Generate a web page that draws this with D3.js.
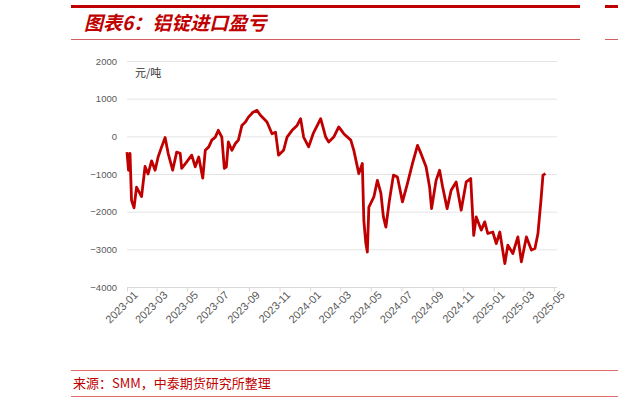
<!DOCTYPE html>
<html><head><meta charset="utf-8">
<script src="https://cdn.jsdelivr.net/npm/d3@7"></script>
<style>body{margin:0;background:#fff}svg{display:block}</style>
</head><body>
<svg id="chart" width="618" height="401"></svg>
<script>
// data (元/吨)
const dates = ["2023-01-01","2023-01-04","2023-01-07","2023-01-10","2023-01-15","2023-01-20","2023-01-30","2023-02-06","2023-02-12","2023-02-19","2023-02-26","2023-03-04","2023-03-11","2023-03-18","2023-03-24","2023-04-02","2023-04-10","2023-04-17","2023-04-20","2023-04-30","2023-05-10","2023-05-17","2023-05-24","2023-06-01","2023-06-06","2023-06-13","2023-06-19","2023-06-26","2023-07-02","2023-07-09","2023-07-14","2023-07-18","2023-07-22","2023-07-29","2023-08-05","2023-08-11","2023-08-18","2023-08-25","2023-08-31","2023-09-09","2023-09-17","2023-09-24","2023-10-07","2023-10-17","2023-10-24","2023-10-30","2023-11-09","2023-11-16","2023-11-26","2023-12-06","2023-12-13","2023-12-19","2023-12-29","2024-01-07","2024-01-22","2024-02-01","2024-02-07","2024-02-17","2024-02-27","2024-03-08","2024-03-22","2024-03-28","2024-04-07","2024-04-14","2024-04-17","2024-04-21","2024-04-24","2024-04-27","2024-05-07","2024-05-14","2024-05-21","2024-05-26","2024-05-31","2024-06-07","2024-06-15","2024-06-23","2024-07-03","2024-07-13","2024-07-23","2024-08-02","2024-08-09","2024-08-19","2024-08-26","2024-08-30","2024-09-08","2024-09-15","2024-09-21","2024-09-30","2024-10-08","2024-10-18","2024-10-28","2024-11-07","2024-11-16","2024-11-22","2024-11-27","2024-12-07","2024-12-14","2024-12-20","2024-12-30","2025-01-06","2025-01-13","2025-01-23","2025-01-29","2025-02-08","2025-02-18","2025-02-25","2025-03-07","2025-03-17","2025-03-24","2025-03-30","2025-04-05","2025-04-09","2025-04-14"];
const values = [-420,-900,-450,-1700,-1900,-1350,-1600,-800,-1000,-650,-900,-550,-280,-30,-450,-900,-420,-450,-850,-680,-500,-810,-550,-1110,-370,-280,-100,-20,160,-20,-850,-810,-150,-370,-190,-100,290,380,510,640,690,560,380,70,110,-500,-370,-20,160,290,470,-20,-280,70,470,-20,-150,-20,250,70,-100,-370,-990,-720,-2230,-2840,-3070,-1880,-1610,-1170,-1510,-2140,-2410,-1700,-1030,-1080,-1740,-1250,-720,-240,-460,-810,-1340,-1920,-1170,-900,-1340,-1920,-1430,-1210,-1960,-1210,-1120,-2630,-2140,-2490,-2270,-2580,-2540,-2850,-2540,-3380,-2890,-3110,-2670,-3330,-2670,-3020,-2980,-2580,-1700,-1030,-990];
const yTicks = [2000,1000,0,-1000,-2000,-3000,-4000];
const title = "图表6：铝锭进口盈亏";
const source = "来源：SMM，中泰期货研究所整理";

const parse = d3.timeParse("%Y-%m-%d");
const series = dates.map((d,i)=>({date:parse(d), v:values[i]}));
const svg = d3.select("#chart");
const red = "#c00000";

// header / footer frame
svg.append("rect").attr("x",71).attr("y",5).attr("width",509).attr("height",3).attr("fill",red);
svg.append("rect").attr("x",605).attr("y",5).attr("width",13).attr("height",3).attr("fill",red);
svg.append("line").attr("x1",71).attr("x2",580).attr("y1",39.5).attr("y2",39.5).attr("stroke","#d06060");
svg.append("line").attr("x1",605).attr("x2",618).attr("y1",39.5).attr("y2",39.5).attr("stroke","#d06060");
svg.append("text").attr("x",84).attr("y",30).text(title)
  .attr("fill",red).attr("font-size",19).attr("font-weight","bold").attr("font-style","italic")
  .attr("font-family","Noto Sans CJK SC");
svg.append("line").attr("x1",71).attr("x2",618).attr("y1",370.5).attr("y2",370.5).attr("stroke","#e07070");
svg.append("line").attr("x1",71).attr("x2",618).attr("y1",396.5).attr("y2",396.5).attr("stroke","#e07070");
svg.append("text").attr("x",73).attr("y",388).text(source)
  .attr("fill",red).attr("font-size",13).attr("font-family","Noto Sans CJK SC");

const x = d3.scaleTime().domain([parse("2023-01-01"), parse("2025-05-01")]).range([127,554]);
const y = d3.scaleLinear().domain([-4000,2000]).range([287,61]);

const g = svg.append("g");
g.selectAll(".grid").data(yTicks.slice(0,-1)).join("line")
  .attr("x1",127).attr("x2",557).attr("y1",d=>y(d)+0.5).attr("y2",d=>y(d)+0.5)
  .attr("stroke","#e4e4e4");

g.append("g").attr("transform","translate(127,0)")
  .call(d3.axisLeft(y).tickValues(yTicks).tickFormat(d3.format("d")).tickSize(0).tickPadding(10))
  .call(a=>a.select(".domain").remove())
  .selectAll("text").attr("fill","#595959").attr("font-size",9.5).attr("font-family","Liberation Sans");

const xa = g.append("g").attr("transform",`translate(0,${y(-4000)+0.5})`)
  .call(d3.axisBottom(x).ticks(d3.timeMonth.every(2)).tickFormat(d3.timeFormat("%Y-%m")).tickSize(4).tickSizeOuter(0));
xa.select(".domain").attr("stroke","#d9d9d9").attr("d","M127,0H557");
xa.selectAll(".tick line").attr("stroke","#d9d9d9");
xa.selectAll("text").attr("fill","#595959").attr("font-size",11).attr("font-family","Liberation Sans")
  .attr("text-anchor","end").attr("dx","0.2em").attr("dy","0.6em").attr("transform","rotate(-45)");

svg.append("text").attr("x",135).attr("y",77).text("元/吨").attr("font-size",11)
  .attr("fill","#333").attr("font-family","Noto Sans CJK SC");

svg.append("path").datum(series)
  .attr("d", d3.line().x(d=>x(d.date)).y(d=>y(d.v)))
  .attr("fill","none").attr("stroke","#c00000").attr("stroke-width",2.8).attr("stroke-linejoin","round");
</script>
</body></html>
